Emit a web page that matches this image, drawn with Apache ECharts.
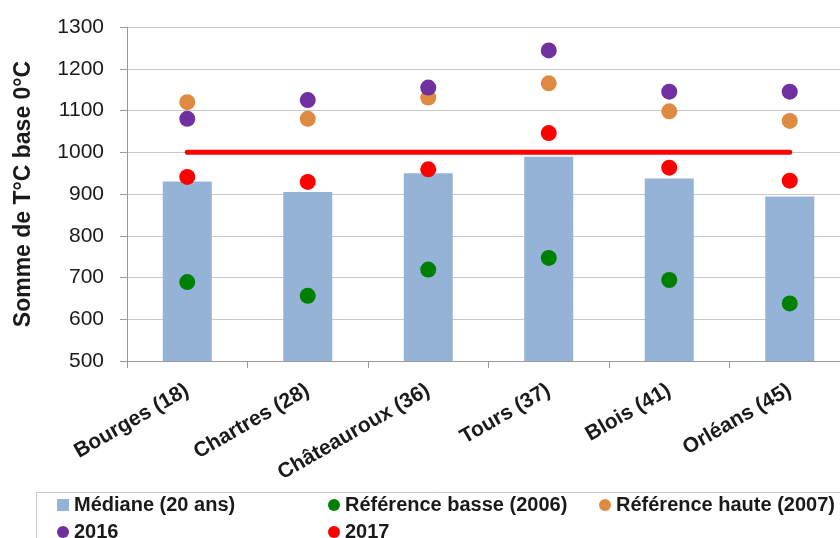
<!DOCTYPE html>
<html>
<head>
<meta charset="utf-8">
<script src="https://cdn.jsdelivr.net/npm/echarts@6/dist/echarts.min.js"></script>
<style>html,body{margin:0;padding:0;background:#fff}#c{width:840px;height:538px}</style>
</head>
<body>
<div id="c"></div>
<script>
const categories = ['Bourges (18)', 'Chartres (28)', 'Châteauroux (36)', 'Tours (37)', 'Blois (41)', 'Orléans (45)'];
const mediane = [930, 905, 950, 989, 937, 894];
const refBasse = [689, 656, 719, 747, 694, 638];
const refHaute = [1120, 1080, 1131, 1165, 1098, 1075];
const y2016 = [1080, 1125, 1155, 1244, 1145, 1145];
const y2017 = [941, 929, 959, 1046, 963, 932];
const threshold = [1000, 1000, 1000, 1000, 1000, 1000];
const yMin = 500, yMax = 1300, yStep = 100;

const FONT = "'Liberation Sans', Arial, sans-serif";
const chart = echarts.init(document.getElementById('c'), null, {renderer: 'canvas'});
const legendText = {fontFamily: FONT, fontWeight: 'bold', fontSize: 20, color: '#1a1a1a'};
function lg(name, icon, left, top) {
  return {data: [{name: name, icon: icon}], left: left, top: top, itemWidth: 12, itemHeight: 12,
          itemGap: 0, padding: 0, textStyle: legendText, selectedMode: false};
}
function dot(name, data, color) {
  return {name: name, type: 'scatter', data: data, symbol: 'circle', symbolSize: 16,
          itemStyle: {color: color, opacity: 1}, z: 4};
}
chart.setOption({
  animation: false,
  backgroundColor: '#ffffff',
  grid: {left: 127, top: 27, height: 334, width: 723, containLabel: false, outerBoundsMode: 'none'},
  xAxis: {
    type: 'category', data: categories,
    axisLine: {show: true, lineStyle: {color: '#9a9a9a', width: 1}},
    axisTick: {show: true, length: 7, lineStyle: {color: '#9a9a9a'}},
    axisLabel: {rotate: 30, margin: 28, fontFamily: FONT, fontWeight: 'bold', fontSize: 21, color: '#1a1a1a', interval: 0}
  },
  yAxis: {
    type: 'value', min: yMin, max: yMax, interval: yStep,
    name: 'Somme de T°C base 0°C', nameLocation: 'middle', nameGap: 92,
    nameTextStyle: {fontFamily: FONT, fontWeight: 'bold', fontSize: 23, color: '#1a1a1a'},
    axisLine: {show: true, lineStyle: {color: '#9a9a9a'}},
    axisTick: {show: true, length: 7, lineStyle: {color: '#9a9a9a'}},
    splitLine: {show: true, lineStyle: {color: '#c8c8c8', width: 1}},
    axisLabel: {margin: 23, fontFamily: FONT, fontSize: 21, color: '#1a1a1a', formatter: v => String(v)}
  },
  legend: [
    lg('Médiane (20 ans)', 'rect', 57, 495),
    lg('Référence basse (2006)', 'circle', 328, 495),
    lg('Référence haute (2007)', 'circle', 599, 495),
    lg('2016', 'circle', 57, 522),
    lg('2017', 'circle', 328, 522)
  ],
  graphic: [{type: 'rect', shape: {x: 36.5, y: 492.5, width: 820, height: 60},
             style: {fill: 'none', stroke: '#c8c8c8', lineWidth: 1}, z: -1}],
  series: [
    {name: 'Médiane (20 ans)', type: 'bar', data: mediane, barWidth: 49,
     itemStyle: {color: '#95B3D7'}, z: 2},
    {name: 'seuil', type: 'line', data: threshold, symbol: 'none',
     lineStyle: {color: '#ff0000', width: 5, cap: 'round'}, z: 3},
    dot('Référence basse (2006)', refBasse, '#008000'),
    dot('Référence haute (2007)', refHaute, '#DE8A42'),
    dot('2016', y2016, '#7030A0'),
    dot('2017', y2017, '#FF0000')
  ]
});
</script>
</body>
</html>
